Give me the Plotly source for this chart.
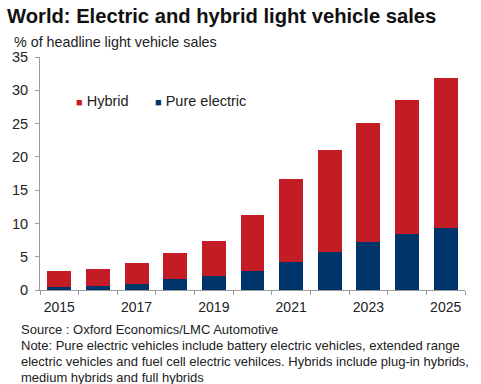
import plotly.graph_objects as go

years = ["2015", "2016", "2017", "2018", "2019", "2020", "2021", "2022", "2023", "2024", "2025"]
pure_electric = [0.4, 0.55, 0.9, 1.6, 2.05, 2.8, 4.15, 5.75, 7.15, 8.35, 9.3]
hybrid = [2.45, 2.6, 3.1, 3.9, 5.35, 8.4, 12.55, 15.35, 17.95, 20.15, 22.6]
x_tick_labels = ["2015", "", "2017", "", "2019", "", "2021", "", "2023", "", "2025"]
y_ticks = [0, 5, 10, 15, 20, 25, 30, 35]

RED = "#C41C24"
NAVY = "#00356B"
FONT = "Liberation Sans, Arial, sans-serif"

W, H = 481, 384
L, R, T, B = 40, 16, 57, 94
pw, ph = W - L - R, H - T - B

def px(x):
    return (x - L) / pw

def py(y):
    return (H - B - y) / ph

fig = go.Figure()
fig.add_trace(go.Bar(x=years, y=pure_electric, name="Pure electric",
                     marker=dict(color=NAVY, line=dict(width=0)), width=0.62))
fig.add_trace(go.Bar(x=years, y=hybrid, name="Hybrid",
                     marker=dict(color=RED, line=dict(width=0)), width=0.62))

fig.update_layout(
    barmode="stack",
    width=W, height=H,
    margin=dict(l=L, r=R, t=T, b=B),
    plot_bgcolor="white", paper_bgcolor="white",
    showlegend=False,
    font=dict(family=FONT, size=14, color="#222222"),
    xaxis=dict(
        type="category",
        tickmode="array", tickvals=years, ticktext=x_tick_labels,
        tickson="boundaries", tickangle=0,
        ticks="outside", ticklen=4, tickcolor="#9a9a9a",
        ticklabelstandoff=4,
        showgrid=False, zeroline=False,
        showline=True, linecolor="#9a9a9a", linewidth=1,
        tickfont=dict(size=14, color="#222222"),
    ),
    yaxis=dict(
        range=[0, 35], tickvals=y_ticks,
        ticks="outside", ticklen=4, tickcolor="#9a9a9a",
        ticklabelstandoff=4,
        showgrid=False, zeroline=False,
        showline=True, linecolor="#9a9a9a", linewidth=1,
        tickfont=dict(size=14.5, color="#222222"),
    ),
)

def note(text, x, y, size, bold=False, color="#222222"):
    fig.add_annotation(text=("<b>%s</b>" % text) if bold else text,
                       xref="paper", yref="paper", x=px(x), y=py(y),
                       xanchor="left", yanchor="middle", showarrow=False,
                       font=dict(family=FONT, size=size, color=color), align="left")

note("World: Electric and hybrid light vehicle sales", 5, 16, 20.2, bold=True, color="#111111")
note("% of headline light vehicle sales", 12, 42, 14.3)

note("<span style='color:%s;font-size:11px'>■</span> Hybrid" % RED, 74, 101, 14.5)
note("<span style='color:%s;font-size:11px'>■</span> Pure electric" % NAVY, 153, 101, 14.5)

note("Source : Oxford Economics/LMC Automotive", 19, 329, 13)
note("Note: Pure electric vehicles include battery electric vehicles, extended range", 19, 345, 13)
note("electric vehicles and fuel cell electric vehilces. Hybrids include plug-in hybrids,", 19, 361, 13)
note("medium hybrids and full hybrids", 19, 377, 13)

fig.write_html("out.html", config={"displayModeBar": False},
               post_script="document.body.style.margin='0';document.body.style.overflow='hidden';")
